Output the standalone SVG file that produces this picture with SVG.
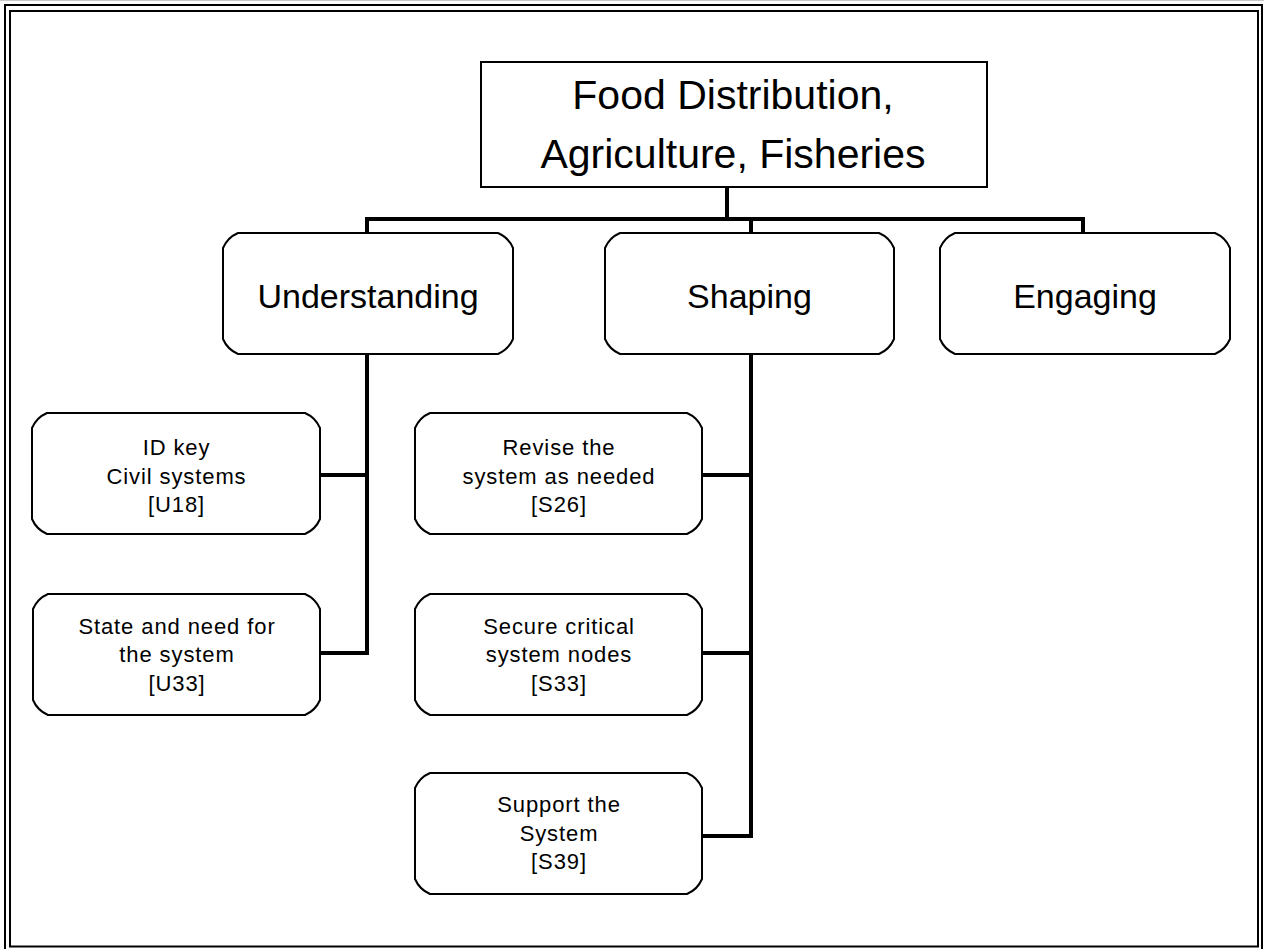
<svg xmlns="http://www.w3.org/2000/svg" width="1264" height="949" viewBox="0 0 1264 949">
<style>
.frame{fill:none;stroke:#000;stroke-width:2}
.box{fill:#fff;stroke:#000;stroke-width:2}
.conn{fill:none;stroke:#000;stroke-width:4;stroke-linejoin:miter;stroke-linecap:butt}
.t{font-family:"Liberation Sans",Arial,sans-serif;fill:#000;text-anchor:middle}
.title{font-size:41px}
.lvl{font-size:34px}
.leaf{font-size:22px;letter-spacing:0.9px}
</style>
<rect x="0" y="0" width="1264" height="949" fill="#fff"/>
<rect x="0" y="0" width="1264" height="1" fill="#c8c8c8"/>
<rect class="frame" x="5" y="5" width="1257" height="946"/>
<rect class="frame" x="10" y="11" width="1248" height="935.5"/>

<g id="connectors">
  <path class="conn" d="M727 187 V219"/>
  <path class="conn" d="M367 233 V219 H1083 V233"/>
  <path class="conn" d="M751 219 V233"/>
  <path class="conn" d="M367 354 V653 H320"/>
  <path class="conn" d="M367 475 H320"/>
  <path class="conn" d="M751 354 V836 H702"/>
  <path class="conn" d="M751 475 H702"/>
  <path class="conn" d="M751 653 H702"/>
</g>

<g id="n-root">
  <rect class="box" x="481" y="62" width="506" height="125"/>
  <text class="t title" x="733" y="109">Food Distribution,</text>
  <text class="t title" x="733" y="168">Agriculture, Fisheries</text>
</g>

<g id="n-understanding">
  <path class="box" d="M238 233 H498 Q508.5 237.5 513 248 V339 Q508.5 349.5 498 354 H238 Q227.5 349.5 223 339 V248 Q227.5 237.5 238 233 Z"/>
  <text class="t lvl" x="368" y="308">Understanding</text>
</g>

<g id="n-shaping">
  <path class="box" d="M620 233 H879 Q889.5 237.5 894 248 V339 Q889.5 349.5 879 354 H620 Q609.5 349.5 605 339 V248 Q609.5 237.5 620 233 Z"/>
  <text class="t lvl" x="749.5" y="307.5">Shaping</text>
</g>

<g id="n-engaging">
  <path class="box" d="M955 233 H1215 Q1225.5 237.5 1230 248 V339 Q1225.5 349.5 1215 354 H955 Q944.5 349.5 940 339 V248 Q944.5 237.5 955 233 Z"/>
  <text class="t lvl" x="1085" y="308">Engaging</text>
</g>

<g id="n-u18">
  <path class="box" d="M47 413 H305 Q315.5 417.5 320 428 V519 Q315.5 529.5 305 534 H47 Q36.5 529.5 32 519 V428 Q36.5 417.5 47 413 Z"/>
  <text class="t leaf" x="176.5" y="455">ID key</text>
  <text class="t leaf" x="176.5" y="483.5">Civil systems</text>
  <text class="t leaf" x="176.5" y="512">[U18]</text>
</g>

<g id="n-u33">
  <path class="box" d="M48 594 H305 Q315.5 598.5 320 609 V700 Q315.5 710.5 305 715 H48 Q37.5 710.5 33 700 V609 Q37.5 598.5 48 594 Z"/>
  <text class="t leaf" x="177" y="633.5">State and need for</text>
  <text class="t leaf" x="177" y="662">the system</text>
  <text class="t leaf" x="177" y="690.5">[U33]</text>
</g>

<g id="n-s26">
  <path class="box" d="M430 413 H687 Q697.5 417.5 702 428 V519 Q697.5 529.5 687 534 H430 Q419.5 529.5 415 519 V428 Q419.5 417.5 430 413 Z"/>
  <text class="t leaf" x="559" y="455">Revise the</text>
  <text class="t leaf" x="559" y="483.5">system as needed</text>
  <text class="t leaf" x="559" y="512">[S26]</text>
</g>

<g id="n-s33">
  <path class="box" d="M430 594 H687 Q697.5 598.5 702 609 V700 Q697.5 710.5 687 715 H430 Q419.5 710.5 415 700 V609 Q419.5 598.5 430 594 Z"/>
  <text class="t leaf" x="559" y="633.5">Secure critical</text>
  <text class="t leaf" x="559" y="662">system nodes</text>
  <text class="t leaf" x="559" y="690.5">[S33]</text>
</g>

<g id="n-s39">
  <path class="box" d="M430 773 H687 Q697.5 777.5 702 788 V879 Q697.5 889.5 687 894 H430 Q419.5 889.5 415 879 V788 Q419.5 777.5 430 773 Z"/>
  <text class="t leaf" x="559" y="812">Support the</text>
  <text class="t leaf" x="559" y="840.5">System</text>
  <text class="t leaf" x="559" y="869">[S39]</text>
</g>
</svg>
